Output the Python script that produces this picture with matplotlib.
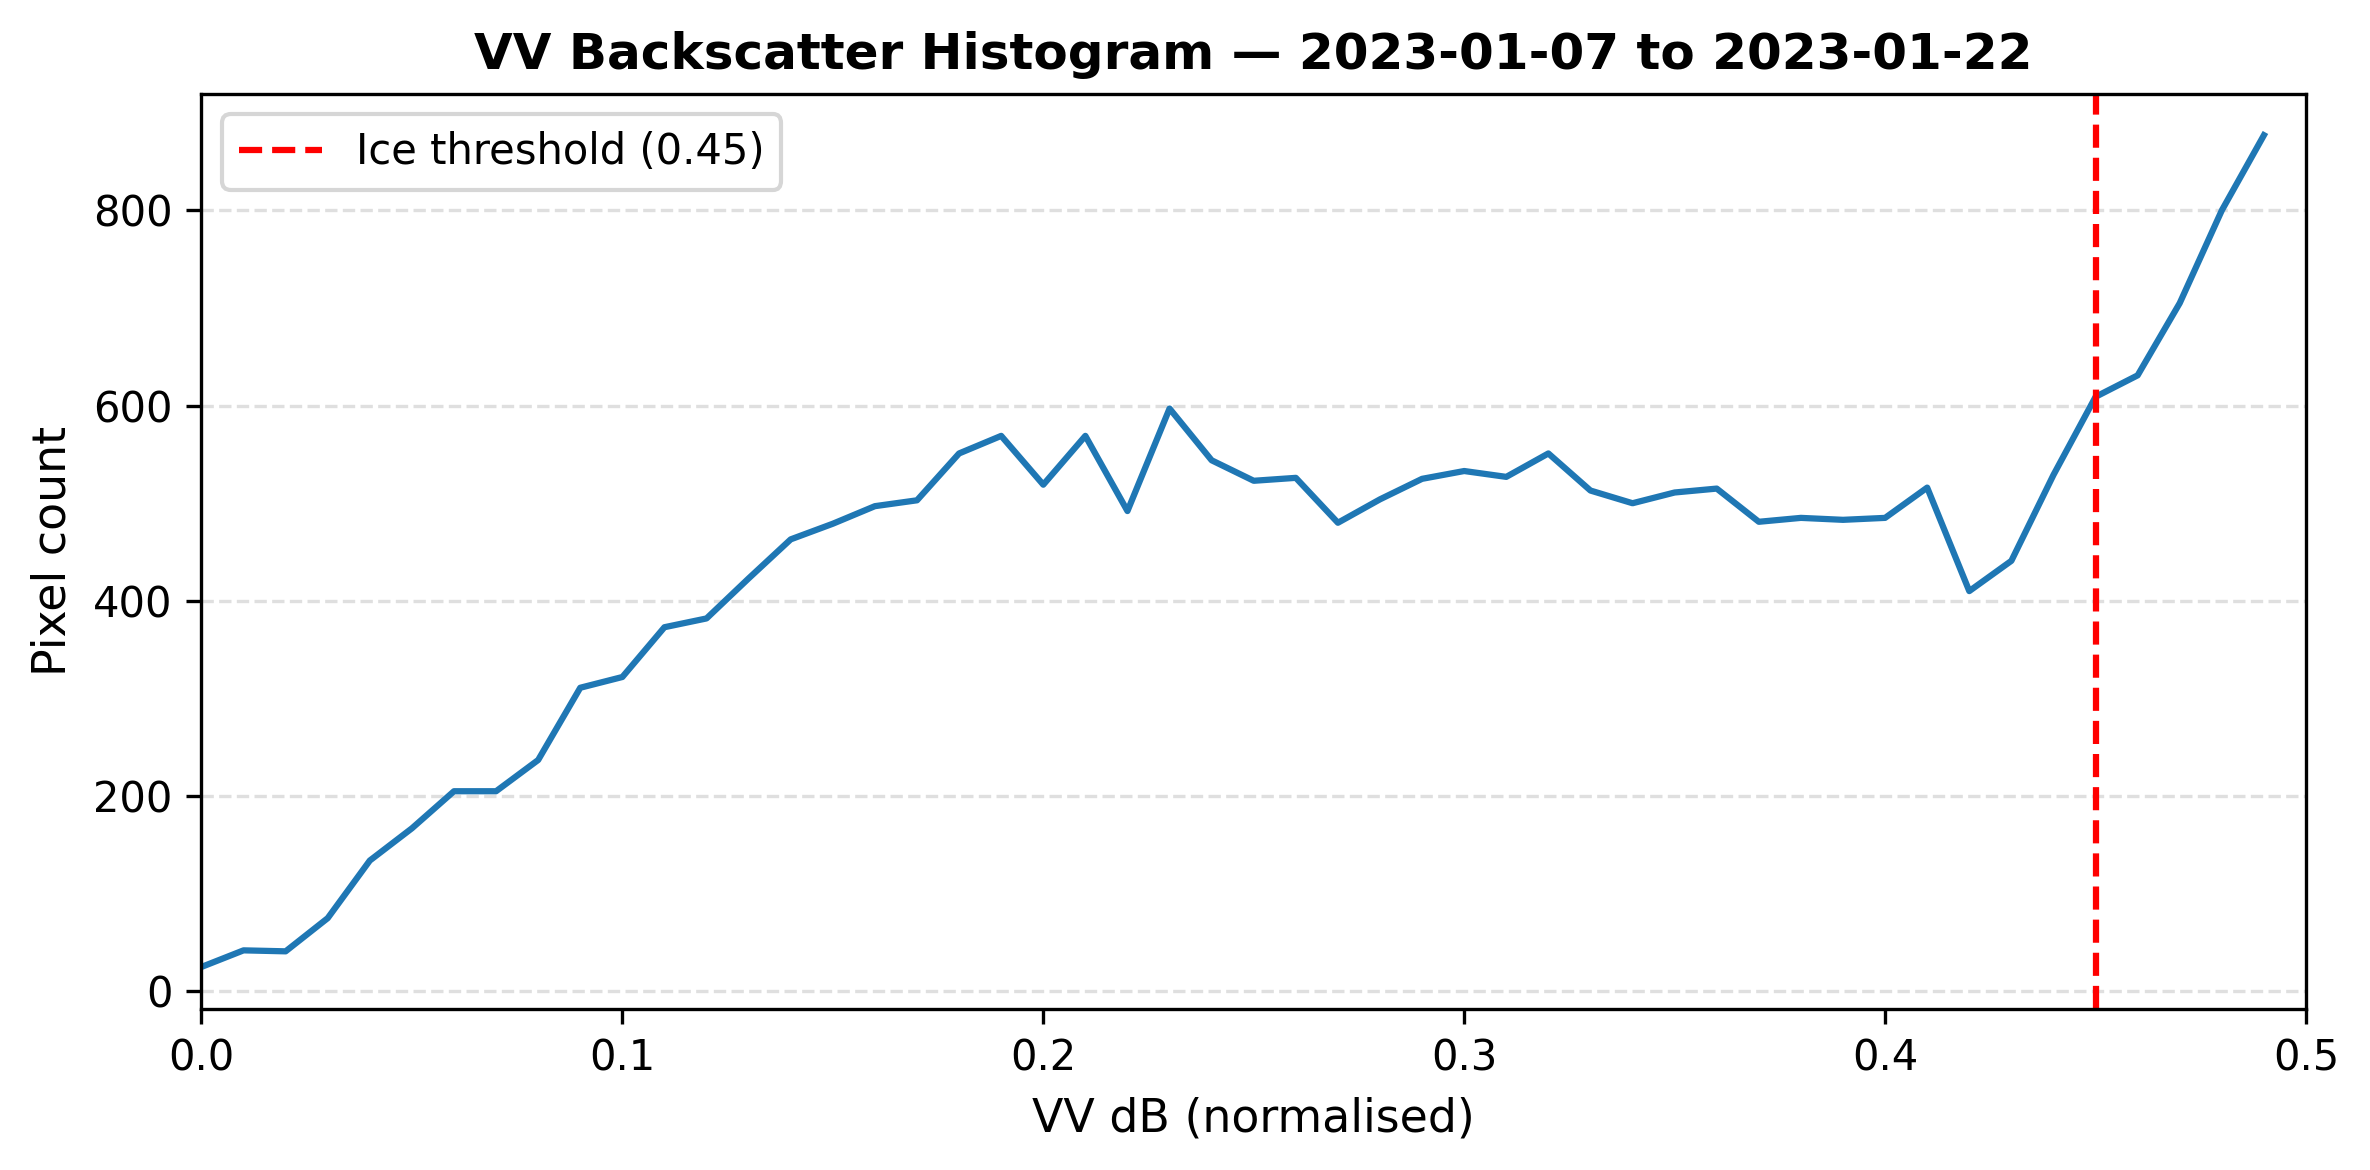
import matplotlib
matplotlib.use("Agg")
import matplotlib.pyplot as plt
import numpy as np

# histogram bins (left edge) and pixel counts
bin_edges = [round(0.01 * i, 2) for i in range(50)]
pixel_counts = [25, 42, 41, 75, 134, 167, 205, 205, 237, 311,
                322, 373, 382, 423, 463, 479, 497, 503, 551, 569,
                519, 569, 492, 597, 544, 523, 526, 480, 504, 525,
                533, 527, 551, 513, 500, 511, 515, 481, 485, 483,
                485, 516, 410, 441, 529, 609, 631, 705, 800, 877]
threshold = 0.45

fig, ax = plt.subplots(figsize=(7.9, 3.9), dpi=300)

ax.plot(bin_edges, pixel_counts, color='#1f77b4', linewidth=1.5)
ax.axvline(threshold, color='red', linestyle='--', linewidth=1.5,
           label='Ice threshold (%.2f)' % threshold)

ax.set_xlim(0, 0.5)
ax.set_xlabel('VV dB (normalised)', fontsize=11)
ax.set_ylabel('Pixel count', fontsize=11)
ax.set_title('VV Backscatter Histogram — 2023-01-07 to 2023-01-22',
             fontsize=12, fontweight='bold')
ax.grid(axis='y', linestyle='--', alpha=0.4)
ax.legend(loc='upper left')

fig.subplots_adjust(left=0.085, right=0.973, top=0.92, bottom=0.138)
fig.savefig('out.png', dpi=300)
